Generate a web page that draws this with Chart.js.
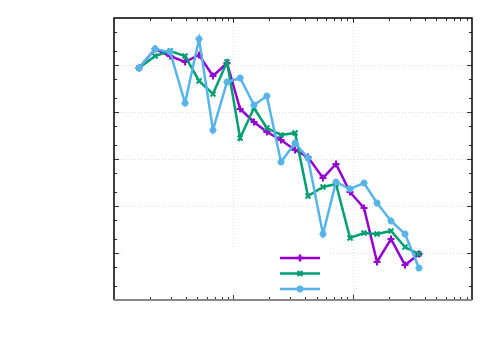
<!DOCTYPE html>
<html lang="en">
<head>
    <meta charset="UTF-8">
    <title>Log-log chart</title>
    <script src="https://cdn.jsdelivr.net/npm/chart.js"></script>
    <style>
        body { margin: 0; background: #fff; }
        #box { width: 500px; height: 350px; }
    </style>
</head>
<body>
    <div id="box"><canvas id="plot" width="500" height="350"></canvas></div>
    <script>
        // x positions (log binned)
        var xValues = [1.62, 2.21, 2.95, 3.94, 5.16, 6.75, 8.85, 11.4, 14.9, 19.1, 25.1,
                       32.9, 42.2, 56.4, 72.5, 95.0, 124.5, 160, 209.6, 274.5, 359.7];

        var purpleValues = [86300, 218800, 155200, 115900, 163300, 58300, 110400, 11590, 6120, 3750, 2540,
                            1550, 1100, 394, 783, 199, 90.6, 6.44, 19.9, 5.56, 9.53];
        var greenValues = [86300, 155200, 198600, 155200, 45700, 24150, 115900, 2800, 12170, 4570, 3240,
                           3570, 163, 254, 294, 20.9, 26.6, 25.4, 29.4, 13.4, 9.5];
        var blueValues = [86300, 218800, 189200, 15530, 357500, 4140, 43500, 52900, 14090, 21900, 863,
                          2190, 1050, 25.4, 324, 230, 309, 116, 48, 25.4, 4.8];

        var xMin = 1, xMax = 1000;
        var yMin = 1, yMax = 1e6;

        function toPoints(ys) {
            var pts = [];
            for (var i = 0; i < xValues.length; i++) {
                pts.push({ x: xValues[i], y: ys[i] });
            }
            return pts;
        }

        // gnuplot style frame: dotted grid at decades, inward ticks on all four sides
        var framePlugin = {
            id: 'frame',
            beforeDatasetsDraw: function(chart) {
                var ctx = chart.ctx;
                var area = chart.chartArea;
                var xs = chart.scales.x, ys = chart.scales.y;
                ctx.save();

                // grid
                ctx.strokeStyle = '#dddddd';
                ctx.lineWidth = 1;
                ctx.setLineDash([1, 2]);
                for (var d = 1; d < 1000; d *= 10) {
                    if (d <= xMin) continue;
                    var px = Math.round(xs.getPixelForValue(d)) + 0.5;
                    ctx.beginPath(); ctx.moveTo(px, area.top); ctx.lineTo(px, area.bottom); ctx.stroke();
                }
                for (var e = 10; e < yMax; e *= 10) {
                    var py = Math.round(ys.getPixelForValue(e)) + 0.5;
                    ctx.beginPath(); ctx.moveTo(area.left, py); ctx.lineTo(area.right, py); ctx.stroke();
                }
                ctx.setLineDash([]);

                // key box is opaque
                ctx.fillStyle = '#ffffff';
                ctx.fillRect(area.left + 9, area.bottom - 51, 207, 50);

                // ticks
                ctx.strokeStyle = '#333333';
                ctx.lineWidth = 1;
                for (var dec = 1; dec < xMax; dec *= 10) {
                    for (var k = 1; k <= 10; k++) {
                        var v = dec * k;
                        if (v <= xMin || v >= xMax) continue;
                        var len = (k === 1 || k === 10) ? 5 : 3;
                        var tx = Math.round(xs.getPixelForValue(v)) + 0.5;
                        ctx.beginPath();
                        ctx.moveTo(tx, area.bottom); ctx.lineTo(tx, area.bottom - len);
                        ctx.moveTo(tx, area.top); ctx.lineTo(tx, area.top + len);
                        ctx.stroke();
                    }
                }
                var yMinor = [1, 2, 5];
                for (var yd = 1; yd < yMax; yd *= 10) {
                    for (var j = 0; j < yMinor.length; j++) {
                        var yv = yd * yMinor[j];
                        if (yv <= yMin) continue;
                        var ylen = yMinor[j] === 1 ? 5 : 3;
                        var ty = Math.round(ys.getPixelForValue(yv)) + 0.5;
                        ctx.beginPath();
                        ctx.moveTo(area.left, ty); ctx.lineTo(area.left + ylen, ty);
                        ctx.moveTo(area.right, ty); ctx.lineTo(area.right - ylen, ty);
                        ctx.stroke();
                    }
                }

                // border
                ctx.strokeStyle = '#000000';
                ctx.lineWidth = 1.5;
                ctx.beginPath();
                ctx.moveTo(area.left, area.bottom);
                ctx.lineTo(area.left, area.top);
                ctx.lineTo(area.right, area.top);
                ctx.lineTo(area.right, area.bottom);
                ctx.stroke();
                ctx.strokeStyle = '#888888';
                ctx.lineWidth = 2;
                ctx.beginPath();
                ctx.moveTo(area.left, area.bottom);
                ctx.lineTo(area.right, area.bottom);
                ctx.stroke();
                ctx.restore();
            },
            afterDatasetsDraw: function(chart) {
                // key samples, no titles
                var ctx = chart.ctx;
                var area = chart.chartArea;
                var rows = [chart.data.datasets[0], chart.data.datasets[1], chart.data.datasets[2]];
                ctx.save();
                for (var i = 0; i < rows.length; i++) {
                    var ds = rows[i];
                    var y = area.bottom - 42 + i * 15.5;
                    var x0 = area.left + 166, x1 = area.left + 206;
                    ctx.strokeStyle = ds.borderColor;
                    ctx.lineWidth = ds.borderWidth;
                    ctx.beginPath(); ctx.moveTo(x0, y); ctx.lineTo(x1, y); ctx.stroke();
                    Chart.helpers.drawPoint(ctx, {
                        pointStyle: ds.pointStyle,
                        radius: ds.pointRadius,
                        borderWidth: ds.pointBorderWidth,
                        rotation: 0
                    }, (x0 + x1) / 2, y);
                }
                ctx.restore();
            }
        };

        var ctx = document.getElementById('plot').getContext('2d');
        var chart = new Chart(ctx, {
            type: 'line',
            data: {
                datasets: [{
                    label: 'purple',
                    data: toPoints(purpleValues),
                    borderColor: '#9400d3',
                    backgroundColor: '#9400d3',
                    borderWidth: 2.5,
                    pointStyle: 'cross',
                    pointRadius: 3.5,
                    pointBorderWidth: 2,
                    order: 2
                }, {
                    label: 'green',
                    data: toPoints(greenValues),
                    borderColor: '#009e73',
                    backgroundColor: '#009e73',
                    borderWidth: 2.5,
                    pointStyle: 'crossRot',
                    pointRadius: 3.5,
                    pointBorderWidth: 2,
                    order: 1
                }, {
                    label: 'blue',
                    data: toPoints(blueValues),
                    borderColor: '#56b4e9',
                    backgroundColor: '#56b4e9',
                    borderWidth: 2.5,
                    pointStyle: 'star',
                    pointRadius: 3.5,
                    pointBorderWidth: 2,
                    order: 0
                }]
            },
            options: {
                responsive: false,
                animation: false,
                layout: { padding: { left: 114, top: 18, right: 28, bottom: 50 } },
                plugins: {
                    legend: { display: false },
                    tooltip: { enabled: false }
                },
                elements: { line: { tension: 0 } },
                scales: {
                    x: { type: 'logarithmic', min: xMin, max: xMax, display: false },
                    y: { type: 'logarithmic', min: yMin, max: yMax, display: false }
                }
            },
            plugins: [framePlugin]
        });
    </script>
</body>
</html>
